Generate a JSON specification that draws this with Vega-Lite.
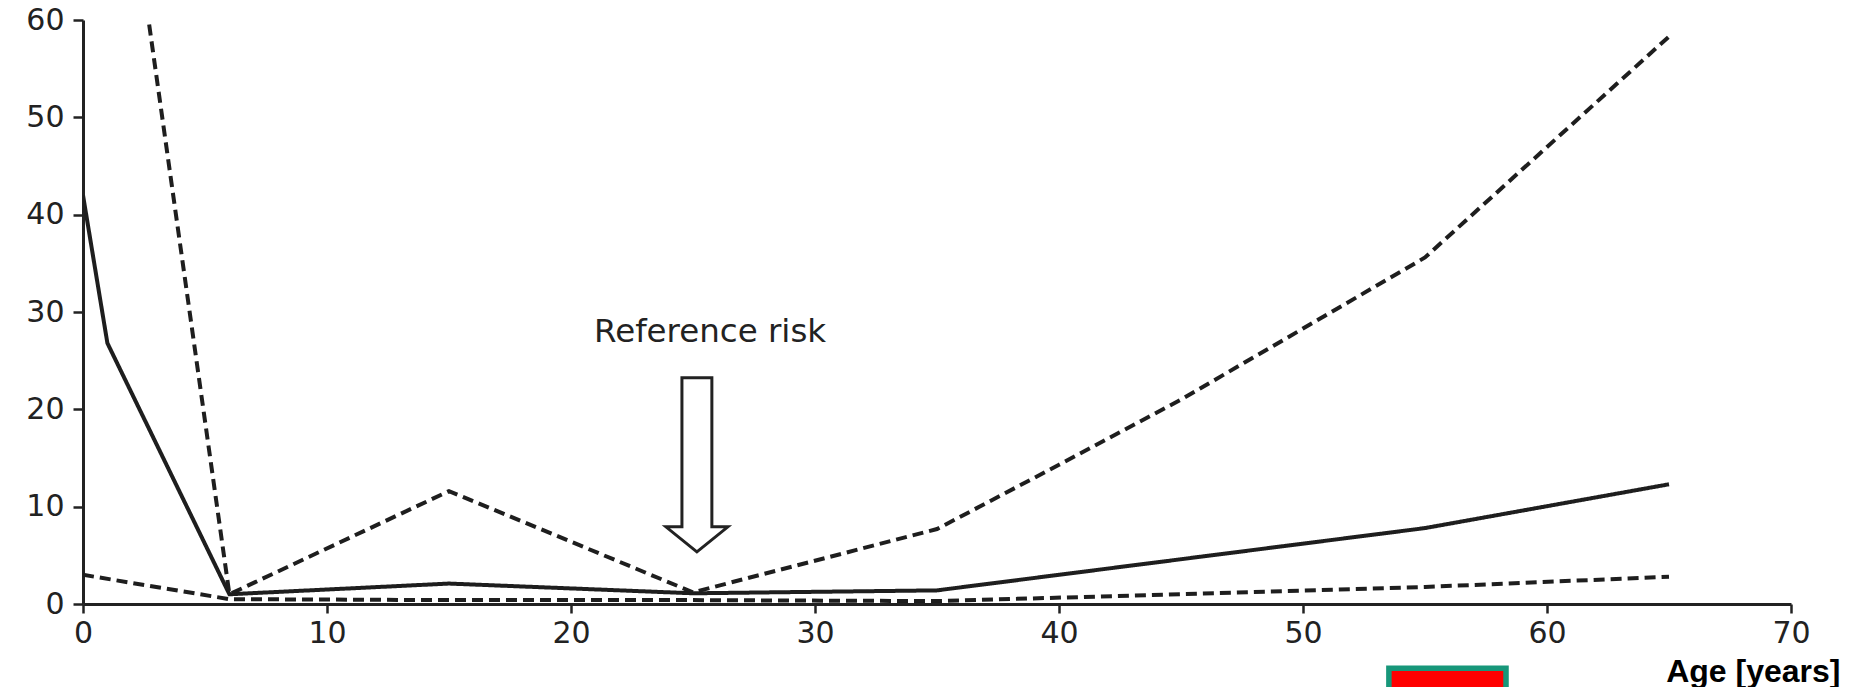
{
  "$schema": "https://vega.github.io/schema/vega-lite/v6.json",
  "width": 1708,
  "height": 584,
  "autosize": {"type": "none"},
  "padding": {"left": 83, "top": 20, "right": 71, "bottom": 83},
  "background": "white",
  "config": {"view": {"stroke": null}},
  "datasets": {
    "risk": [
      {"age": 0, "value": 42.0, "series": "estimate"},
      {"age": 1, "value": 26.8, "series": "estimate"},
      {"age": 6, "value": 1.0, "series": "estimate"},
      {"age": 15, "value": 2.1, "series": "estimate"},
      {"age": 25, "value": 1.1, "series": "estimate"},
      {"age": 35, "value": 1.4, "series": "estimate"},
      {"age": 55, "value": 7.8, "series": "estimate"},
      {"age": 65, "value": 12.3, "series": "estimate"},
      {"age": 0, "value": 150, "series": "upper"},
      {"age": 1, "value": 90, "series": "upper"},
      {"age": 6, "value": 1.0, "series": "upper"},
      {"age": 15, "value": 11.6, "series": "upper"},
      {"age": 25, "value": 1.2, "series": "upper"},
      {"age": 35, "value": 7.7, "series": "upper"},
      {"age": 40, "value": 14.3, "series": "upper"},
      {"age": 45, "value": 21.0, "series": "upper"},
      {"age": 50, "value": 28.3, "series": "upper"},
      {"age": 55, "value": 35.6, "series": "upper"},
      {"age": 65, "value": 58.3, "series": "upper"},
      {"age": 0, "value": 3.0, "series": "lower"},
      {"age": 6, "value": 0.5, "series": "lower"},
      {"age": 15, "value": 0.4, "series": "lower"},
      {"age": 25, "value": 0.4, "series": "lower"},
      {"age": 35, "value": 0.3, "series": "lower"},
      {"age": 45, "value": 1.0, "series": "lower"},
      {"age": 55, "value": 1.75, "series": "lower"},
      {"age": 65, "value": 2.8, "series": "lower"}
    ],
    "note": [{"label": "Reference risk", "age": 25.7, "value": 26.9}],
    "arrow": [{"age": 25.16, "value": 14.3}],
    "box": [{"x1": 53.52, "x2": 58.32, "y1": -6.6, "y2": -14}]
  },
  "layer": [
    {
      "data": {"name": "risk"},
      "mark": {"type": "line", "clip": true, "strokeWidth": 4, "color": "#1e1e1e", "strokeCap": "butt", "strokeJoin": "miter"},
      "encoding": {
        "x": {
          "field": "age", "type": "quantitative",
          "scale": {"domain": [0, 70], "nice": false, "zero": false},
          "axis": {
            "values": [0, 10, 20, 30, 40, 50, 60, 70],
            "grid": false,
            "domainColor": "#222", "domainWidth": 3,
            "tickColor": "#222", "tickWidth": 2.5, "tickSize": 9,
            "labelFont": "DejaVu Sans", "labelFontSize": 30, "labelColor": "#222", "labelPadding": 5,
            "labelFlush": false, "labelOverlap": false,
            "title": "Age [years]",
            "titleFont": "Liberation Sans", "titleFontWeight": "bold", "titleFontSize": 32, "titleColor": "#000",
            "titleX": 1757, "titleY": 77, "titleAlign": "right", "titleBaseline": "alphabetic", "titleAnchor": null
          }
        },
        "y": {
          "field": "value", "type": "quantitative",
          "scale": {"domain": [0, 60], "nice": false},
          "axis": {
            "values": [0, 10, 20, 30, 40, 50, 60],
            "grid": false,
            "domainColor": "#222", "domainWidth": 3,
            "tickColor": "#222", "tickWidth": 2.5, "tickSize": 10,
            "labelFont": "DejaVu Sans", "labelFontSize": 30, "labelColor": "#222", "labelPadding": 9,
            "labelFlush": false, "labelOverlap": false,
            "title": null
          }
        },
        "strokeDash": {
          "field": "series", "type": "nominal",
          "scale": {"domain": ["estimate", "upper", "lower"], "range": [[1, 0], [11, 6], [11, 6]]},
          "legend": null
        }
      }
    },
    {
      "data": {"name": "note"},
      "mark": {"type": "text", "font": "DejaVu Sans", "fontSize": 32.5, "color": "#222", "align": "center", "baseline": "alphabetic"},
      "encoding": {
        "x": {"field": "age", "type": "quantitative"},
        "y": {"field": "value", "type": "quantitative"},
        "text": {"field": "label"}
      }
    },
    {
      "data": {"name": "arrow"},
      "mark": {
        "type": "point",
        "shape": "M -0.172 -1 L 0.172 -1 L 0.172 0.713 L 0.356 0.713 L 0 1 L -0.356 0.713 L -0.172 0.713 Z",
        "size": 30276,
        "filled": true,
        "fill": "white",
        "stroke": "#222",
        "strokeWidth": 3,
        "opacity": 1,
        "strokeJoin": "miter"
      },
      "encoding": {
        "x": {"field": "age", "type": "quantitative"},
        "y": {"field": "value", "type": "quantitative"}
      }
    },
    {
      "data": {"name": "box"},
      "mark": {"type": "rect", "fill": "#ff0000", "stroke": "#17977a", "strokeWidth": 5.5, "clip": false},
      "encoding": {
        "x": {"field": "x1", "type": "quantitative"},
        "x2": {"field": "x2"},
        "y": {"field": "y1", "type": "quantitative"},
        "y2": {"field": "y2"}
      }
    }
  ]
}
